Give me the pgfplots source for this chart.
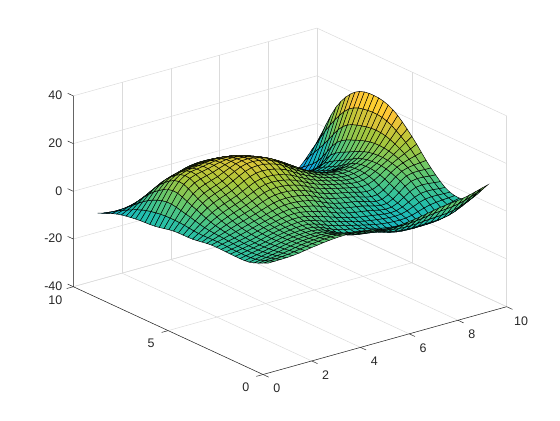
\documentclass[border=0pt]{standalone}
\usepackage{pgfplots}
\usepackage{fontspec}
\setmainfont{Liberation Sans}
\pgfplotsset{compat=1.18}
\begin{document}
\begin{tikzpicture}[x=1bp,y=1bp]
\path[use as bounding box] (0,0) rectangle (560,420);
\begin{axis}[
 at={(263bp,140.9bp)},anchor=origin,
 x={(24.37bp,6.78bp)},y={(-18.97bp,8.78bp)},z={(0bp,2.385bp)},
 xmin=0,xmax=10,ymin=0,ymax=10,zmin=-40,zmax=40,
 xtick={0,2,4,6,8,10},ytick={0,5,10},ztick={-40,-20,0,20,40},
 grid=major,grid style={color=black!14,line width=0.5bp},
 axis line style={draw=none},tickpos=left,
 tick align=outside,major tick length=6bp,tick style={draw=none},
 ticklabel style={font=\fontsize{12.5}{14}\selectfont,color=black!85},
 xticklabel style={xshift=3bp,yshift=-3bp},
 yticklabel style={xshift=-5bp,yshift=-2.5bp},
 zticklabel style={xshift=-2bp,yshift=-3bp},
 /pgf/number format/assume math mode=true,
 clip=false,
 colormap={parula}{rgb255=(62,38,168) rgb255=(71,82,244) rgb255=(46,135,247) rgb255=(17,177,214) rgb255=(36,191,170) rgb255=(100,200,110) rgb255=(172,199,57) rgb255=(254,195,56) rgb255=(249,251,21)},
 point meta min=-35,point meta max=26,
]
\addplot3[surf,shader=faceted,faceted color=black,line width=0.45bp,z buffer=sort,mesh/rows=37,mesh/cols=37] table[x=x,y=y,z=z,row sep=\\] {
x y z\\
1 1 .2\\ 1.25 1 .25\\ 1.5 1 .28\\ 1.75 1 .34\\ 2 1 .5\\ 2.25 1 .8\\ 2.5 1 1.21\\ 2.75 1 1.63\\ 3 1 2\\ 3.25 1 2.32\\ 3.5 1 2.63\\ 3.75 1 2.87\\ 4 1 3\\ 4.25 1 3.01\\ 4.5 1 2.93\\ 4.75 1 2.75\\ 5 1 2.5\\ 5.25 1 2.08\\ 5.5 1 1.52\\ 5.75 1 1\\ 6 1 .7\\ 6.25 1 .69\\ 6.5 1 .87\\ 6.75 1 1.16\\ 7 1 1.5\\ 7.25 1 1.92\\ 7.5 1 2.42\\ 7.75 1 2.94\\ 8 1 3.4\\ 8.25 1 3.74\\ 8.5 1 4\\ 8.75 1 4.29\\ 9 1 4.7\\ 9.25 1 5.28\\ 9.5 1 5.96\\ 9.75 1 6.7\\ 10 1 7.4\\
1 1.25 -.7\\ 1.25 1.25 -.51\\ 1.5 1.25 -.35\\ 1.75 1.25 -.16\\ 2 1.25 .1\\ 2.25 1.25 .47\\ 2.5 1.25 .92\\ 2.75 1.25 1.36\\ 3 1.25 1.73\\ 3.25 1.25 2.02\\ 3.5 1.25 2.28\\ 3.75 1.25 2.43\\ 4 1.25 2.43\\ 4.25 1.25 2.22\\ 4.5 1.25 1.85\\ 4.75 1.25 1.39\\ 5 1.25 .95\\ 5.25 1.25 .5\\ 5.5 1.25 0\\ 5.75 1.25 -.46\\ 6 1.25 -.8\\ 6.25 1.25 -.99\\ 6.5 1.25 -1.08\\ 6.75 1.25 -1.09\\ 7 1.25 -1\\ 7.25 1.25 -.78\\ 7.5 1.25 -.46\\ 7.75 1.25 -.1\\ 8 1.25 .25\\ 8.25 1.25 .49\\ 8.5 1.25 .69\\ 8.75 1.25 .96\\ 9 1.25 1.41\\ 9.25 1.25 2.09\\ 9.5 1.25 2.95\\ 9.75 1.25 3.88\\ 10 1.25 4.77\\
1 1.5 -1.64\\ 1.25 1.5 -1.31\\ 1.5 1.5 -1\\ 1.75 1.5 -.68\\ 2 1.5 -.31\\ 2.25 1.5 .12\\ 2.5 1.5 .62\\ 2.75 1.5 1.08\\ 3 1.5 1.44\\ 3.25 1.5 1.69\\ 3.5 1.5 1.9\\ 3.75 1.5 1.96\\ 4 1.5 1.81\\ 4.25 1.5 1.36\\ 4.5 1.5 .68\\ 4.75 1.5 -.08\\ 5 1.5 -.72\\ 5.25 1.5 -1.2\\ 5.5 1.5 -1.63\\ 5.75 1.5 -2.01\\ 6 1.5 -2.38\\ 6.25 1.5 -2.77\\ 6.5 1.5 -3.15\\ 6.75 1.5 -3.48\\ 7 1.5 -3.66\\ 7.25 1.5 -3.66\\ 7.5 1.5 -3.52\\ 7.75 1.5 -3.32\\ 8 1.5 -3.11\\ 8.25 1.5 -2.97\\ 8.5 1.5 -2.85\\ 8.75 1.5 -2.61\\ 9 1.5 -2.13\\ 9.25 1.5 -1.32\\ 9.5 1.5 -.27\\ 9.75 1.5 .88\\ 10 1.5 1.99\\
1 1.75 -2.49\\ 1.25 1.75 -2.04\\ 1.5 1.75 -1.59\\ 1.75 1.75 -1.15\\ 2 1.75 -.7\\ 2.25 1.75 -.19\\ 2.5 1.75 .35\\ 2.75 1.75 .83\\ 3 1.75 1.18\\ 3.25 1.75 1.41\\ 3.5 1.75 1.58\\ 3.75 1.75 1.56\\ 4 1.75 1.29\\ 4.25 1.75 .63\\ 4.5 1.75 -.31\\ 4.75 1.75 -1.33\\ 5 1.75 -2.15\\ 5.25 1.75 -2.67\\ 5.5 1.75 -3.04\\ 5.75 1.75 -3.37\\ 6 1.75 -3.78\\ 6.25 1.75 -4.34\\ 6.5 1.75 -4.97\\ 6.75 1.75 -5.57\\ 7 1.75 -5.98\\ 7.25 1.75 -6.18\\ 7.5 1.75 -6.21\\ 7.75 1.75 -6.15\\ 8 1.75 -6.05\\ 8.25 1.75 -5.99\\ 8.5 1.75 -5.91\\ 8.75 1.75 -5.68\\ 9 1.75 -5.17\\ 9.25 1.75 -4.27\\ 9.5 1.75 -3.07\\ 9.75 1.75 -1.76\\ 10 1.75 -.5\\
1 2 -3.1\\ 1.25 2 -2.57\\ 1.5 2 -2.04\\ 1.75 2 -1.52\\ 2 2 -1\\ 2.25 2 -.45\\ 2.5 2 .13\\ 2.75 2 .64\\ 3 2 1\\ 3.25 2 1.23\\ 3.5 2 1.38\\ 3.75 2 1.33\\ 4 2 1\\ 4.25 2 .22\\ 4.5 2 -.89\\ 4.75 2 -2.07\\ 5 2 -3\\ 5.25 2 -3.56\\ 5.5 2 -3.93\\ 5.75 2 -4.25\\ 6 2 -4.7\\ 6.25 2 -5.38\\ 6.5 2 -6.17\\ 6.75 2 -6.94\\ 7 2 -7.5\\ 7.25 2 -7.83\\ 7.5 2 -7.99\\ 7.75 2 -8.04\\ 8 2 -8\\ 8.25 2 -7.95\\ 8.5 2 -7.83\\ 8.75 2 -7.55\\ 9 2 -7\\ 9.25 2 -6.09\\ 9.5 2 -4.88\\ 9.75 2 -3.57\\ 10 2 -2.3\\
1 2.25 -3.4\\ 1.25 2.25 -2.85\\ 1.5 2.25 -2.31\\ 1.75 2.25 -1.77\\ 2 2.25 -1.23\\ 2.25 2.25 -.65\\ 2.5 2.25 -.04\\ 2.75 2.25 .5\\ 3 2.25 .9\\ 3.25 2.25 1.16\\ 3.5 2.25 1.34\\ 3.75 2.25 1.32\\ 4 2.25 1\\ 4.25 2.25 .21\\ 4.5 2.25 -.92\\ 4.75 2.25 -2.13\\ 5 2.25 -3.1\\ 5.25 2.25 -3.71\\ 5.5 2.25 -4.14\\ 5.75 2.25 -4.53\\ 6 2.25 -5.03\\ 6.25 2.25 -5.74\\ 6.5 2.25 -6.56\\ 6.75 2.25 -7.34\\ 7 2.25 -7.92\\ 7.25 2.25 -8.3\\ 7.5 2.25 -8.51\\ 7.75 2.25 -8.6\\ 8 2.25 -8.56\\ 8.25 2.25 -8.42\\ 8.5 2.25 -8.14\\ 8.75 2.25 -7.73\\ 9 2.25 -7.15\\ 9.25 2.25 -6.36\\ 9.5 2.25 -5.36\\ 9.75 2.25 -4.31\\ 10 2.25 -3.27\\
1 2.5 -3.46\\ 1.25 2.5 -2.95\\ 1.5 2.5 -2.45\\ 1.75 2.5 -1.94\\ 2 2.5 -1.41\\ 2.25 2.5 -.81\\ 2.5 2.5 -.17\\ 2.75 2.5 .41\\ 3 2.5 .84\\ 3.25 2.5 1.16\\ 3.5 2.5 1.4\\ 3.75 2.5 1.44\\ 4 2.5 1.19\\ 4.25 2.5 .48\\ 4.5 2.5 -.57\\ 4.75 2.5 -1.71\\ 5 2.5 -2.66\\ 5.25 2.5 -3.33\\ 5.5 2.5 -3.87\\ 5.75 2.5 -4.38\\ 6 2.5 -4.94\\ 6.25 2.5 -5.62\\ 6.5 2.5 -6.36\\ 6.75 2.5 -7.05\\ 7 2.5 -7.56\\ 7.25 2.5 -7.92\\ 7.5 2.5 -8.13\\ 7.75 2.5 -8.22\\ 8 2.5 -8.12\\ 8.25 2.5 -7.81\\ 8.5 2.5 -7.3\\ 8.75 2.5 -6.71\\ 9 2.5 -6.11\\ 9.25 2.5 -5.53\\ 9.5 2.5 -4.91\\ 9.75 2.5 -4.29\\ 10 2.5 -3.66\\
1 2.75 -3.43\\ 1.25 2.75 -2.96\\ 1.5 2.75 -2.49\\ 1.75 2.75 -2.02\\ 2 2.75 -1.5\\ 2.25 2.75 -.9\\ 2.5 2.75 -.23\\ 2.75 2.75 .38\\ 3 2.75 .87\\ 3.25 2.75 1.26\\ 3.5 2.75 1.57\\ 3.75 2.75 1.71\\ 4 2.75 1.54\\ 4.25 2.75 .95\\ 4.5 2.75 .04\\ 4.75 2.75 -.99\\ 5 2.75 -1.89\\ 5.25 2.75 -2.62\\ 5.5 2.75 -3.29\\ 5.75 2.75 -3.93\\ 6 2.75 -4.55\\ 6.25 2.75 -5.19\\ 6.5 2.75 -5.82\\ 6.75 2.75 -6.37\\ 7 2.75 -6.8\\ 7.25 2.75 -7.12\\ 7.5 2.75 -7.33\\ 7.75 2.75 -7.41\\ 8 2.75 -7.25\\ 8.25 2.75 -6.76\\ 8.5 2.75 -5.97\\ 8.75 2.75 -5.15\\ 9 2.75 -4.51\\ 9.25 2.75 -4.15\\ 9.5 2.75 -3.91\\ 9.75 2.75 -3.74\\ 10 2.75 -3.54\\
1 3 -3.4\\ 1.25 3 -2.94\\ 1.5 3 -2.49\\ 1.75 3 -2.02\\ 2 3 -1.5\\ 2.25 3 -.88\\ 2.5 3 -.19\\ 2.75 3 .46\\ 3 3 1\\ 3.25 3 1.45\\ 3.5 3 1.84\\ 3.75 3 2.07\\ 4 3 2\\ 4.25 3 1.53\\ 4.5 3 .75\\ 4.75 3 -.16\\ 5 3 -1\\ 5.25 3 -1.78\\ 5.5 3 -2.56\\ 5.75 3 -3.32\\ 6 3 -4\\ 6.25 3 -4.61\\ 6.5 3 -5.16\\ 6.75 3 -5.63\\ 7 3 -6\\ 7.25 3 -6.33\\ 7.5 3 -6.59\\ 7.75 3 -6.7\\ 8 3 -6.5\\ 8.25 3 -5.83\\ 8.5 3 -4.78\\ 8.75 3 -3.73\\ 9 3 -3\\ 9.25 3 -2.76\\ 9.5 3 -2.78\\ 9.75 3 -2.92\\ 10 3 -3\\
1 3.25 -3.38\\ 1.25 3.25 -2.9\\ 1.5 3.25 -2.43\\ 1.75 3.25 -1.94\\ 2 3.25 -1.39\\ 2.25 3.25 -.75\\ 2.5 3.25 -.04\\ 2.75 3.25 .64\\ 3 3.25 1.23\\ 3.25 3.25 1.75\\ 3.5 3.25 2.22\\ 3.75 3.25 2.54\\ 4 3.25 2.57\\ 4.25 3.25 2.23\\ 4.5 3.25 1.6\\ 4.75 3.25 .82\\ 5 3.25 .04\\ 5.25 3.25 -.76\\ 5.5 3.25 -1.64\\ 5.75 3.25 -2.5\\ 6 3.25 -3.24\\ 6.25 3.25 -3.85\\ 6.5 3.25 -4.36\\ 6.75 3.25 -4.8\\ 7 3.25 -5.17\\ 7.25 3.25 -5.58\\ 7.5 3.25 -5.97\\ 7.75 3.25 -6.19\\ 8 3.25 -5.99\\ 8.25 3.25 -5.15\\ 8.5 3.25 -3.81\\ 8.75 3.25 -2.47\\ 9 3.25 -1.57\\ 9.25 3.25 -1.33\\ 9.5 3.25 -1.45\\ 9.75 3.25 -1.74\\ 10 3.25 -1.94\\
1 3.5 -3.29\\ 1.25 3.5 -2.79\\ 1.5 3.5 -2.28\\ 1.75 3.5 -1.76\\ 2 3.5 -1.19\\ 2.25 3.5 -.52\\ 2.5 3.5 .2\\ 2.75 3.5 .9\\ 3 3.5 1.53\\ 3.25 3.5 2.12\\ 3.5 3.5 2.68\\ 3.75 3.5 3.1\\ 4 3.5 3.25\\ 4.25 3.5 3.06\\ 4.5 3.5 2.61\\ 4.75 3.5 2\\ 5 3.5 1.31\\ 5.25 3.5 .49\\ 5.5 3.5 -.47\\ 5.75 3.5 -1.43\\ 6 3.5 -2.24\\ 6.25 3.5 -2.84\\ 6.5 3.5 -3.33\\ 6.75 3.5 -3.74\\ 7 3.5 -4.13\\ 7.25 3.5 -4.65\\ 7.5 3.5 -5.24\\ 7.75 3.5 -5.6\\ 8 3.5 -5.43\\ 8.25 3.5 -4.4\\ 8.5 3.5 -2.74\\ 8.75 3.5 -1.05\\ 9 3.5 .07\\ 9.25 3.5 .37\\ 9.5 3.5 .22\\ 9.75 3.5 -.13\\ 10 3.5 -.39\\
1 3.75 -3.25\\ 1.25 3.75 -2.67\\ 1.5 3.75 -2.1\\ 1.75 3.75 -1.52\\ 2 3.75 -.89\\ 2.25 3.75 -.2\\ 2.5 3.75 .55\\ 2.75 3.75 1.28\\ 3 3.75 1.95\\ 3.25 3.75 2.62\\ 3.5 3.75 3.27\\ 3.75 3.75 3.8\\ 4 3.75 4.07\\ 4.25 3.75 4.03\\ 4.5 3.75 3.75\\ 4.75 3.75 3.28\\ 5 3.75 2.68\\ 5.25 3.75 1.85\\ 5.5 3.75 .81\\ 5.75 3.75 -.24\\ 6 3.75 -1.12\\ 6.25 3.75 -1.73\\ 6.5 3.75 -2.2\\ 6.75 3.75 -2.61\\ 7 3.75 -3.03\\ 7.25 3.75 -3.67\\ 7.5 3.75 -4.43\\ 7.75 3.75 -4.93\\ 8 3.75 -4.79\\ 8.25 3.75 -3.6\\ 8.5 3.75 -1.66\\ 8.75 3.75 .32\\ 9 3.75 1.67\\ 9.25 3.75 2.09\\ 9.5 3.75 2\\ 9.75 3.75 1.7\\ 10 3.75 1.5\\
1 4 -3.3\\ 1.25 4 -2.61\\ 1.5 4 -1.91\\ 1.75 4 -1.22\\ 2 4 -.5\\ 2.25 4 .25\\ 2.5 4 1.02\\ 2.75 4 1.78\\ 3 4 2.5\\ 3.25 4 3.25\\ 3.5 4 4\\ 3.75 4 4.63\\ 4 4 5\\ 4.25 4 5.07\\ 4.5 4 4.91\\ 4.75 4 4.55\\ 5 4 4\\ 5.25 4 3.16\\ 5.5 4 2.06\\ 5.75 4 .93\\ 6 4 0\\ 6.25 4 -.64\\ 6.5 4 -1.13\\ 6.75 4 -1.55\\ 7 4 -2\\ 7.25 4 -2.71\\ 7.5 4 -3.56\\ 7.75 4 -4.13\\ 8 4 -4\\ 8.25 4 -2.73\\ 8.5 4 -.66\\ 8.75 4 1.49\\ 9 4 3\\ 9.25 4 3.58\\ 9.5 4 3.66\\ 9.75 4 3.53\\ 10 4 3.5\\
1 4.25 -3.53\\ 1.25 4.25 -2.65\\ 1.5 4.25 -1.75\\ 1.75 4.25 -.88\\ 2 4.25 -.01\\ 2.25 4.25 .83\\ 2.5 4.25 1.64\\ 2.75 4.25 2.44\\ 3 4.25 3.22\\ 3.25 4.25 4.06\\ 3.5 4.25 4.92\\ 3.75 4.25 5.67\\ 4 4.25 6.12\\ 4.25 4.25 6.25\\ 4.5 4.25 6.14\\ 4.75 4.25 5.81\\ 5 4.25 5.27\\ 5.25 4.25 4.42\\ 5.5 4.25 3.28\\ 5.75 4.25 2.1\\ 6 4.25 1.13\\ 6.25 4.25 .45\\ 6.5 4.25 -.09\\ 6.75 4.25 -.56\\ 7 4.25 -1.03\\ 7.25 4.25 -1.73\\ 7.5 4.25 -2.56\\ 7.75 4.25 -3.09\\ 8 4.25 -2.95\\ 8.25 4.25 -1.7\\ 8.5 4.25 .31\\ 8.75 4.25 2.44\\ 9 4.25 4.02\\ 9.25 4.25 4.82\\ 9.5 4.25 5.21\\ 9.75 4.25 5.43\\ 10 4.25 5.72\\
1 4.5 -3.88\\ 1.25 4.5 -2.75\\ 1.5 4.5 -1.59\\ 1.75 4.5 -.48\\ 2 4.5 .56\\ 2.25 4.5 1.51\\ 2.5 4.5 2.39\\ 2.75 4.5 3.22\\ 3 4.5 4.06\\ 3.25 4.5 5.01\\ 3.5 4.5 5.99\\ 3.75 4.5 6.85\\ 4 4.5 7.38\\ 4.25 4.5 7.54\\ 4.5 4.5 7.43\\ 4.75 4.5 7.08\\ 5 4.5 6.53\\ 5.25 4.5 5.67\\ 5.5 4.5 4.52\\ 5.75 4.5 3.32\\ 6 4.5 2.31\\ 6.25 4.5 1.57\\ 6.5 4.5 .96\\ 6.75 4.5 .44\\ 7 4.5 -.06\\ 7.25 4.5 -.71\\ 7.5 4.5 -1.43\\ 7.75 4.5 -1.86\\ 8 4.5 -1.68\\ 8.25 4.5 -.54\\ 8.5 4.5 1.27\\ 8.75 4.5 3.25\\ 9 4.5 4.85\\ 9.25 4.5 5.92\\ 9.5 4.5 6.72\\ 9.75 4.5 7.43\\ 10 4.5 8.19\\
1 4.75 -4.24\\ 1.25 4.75 -2.83\\ 1.5 4.75 -1.39\\ 1.75 4.75 -.02\\ 2 4.75 1.24\\ 2.25 4.75 2.3\\ 2.5 4.75 3.24\\ 2.75 4.75 4.11\\ 3 4.75 5.01\\ 3.25 4.75 6.05\\ 3.5 4.75 7.15\\ 3.75 4.75 8.12\\ 4 4.75 8.71\\ 4.25 4.75 8.89\\ 4.5 4.75 8.75\\ 4.75 4.75 8.37\\ 5 4.75 7.79\\ 5.25 4.75 6.91\\ 5.5 4.75 5.74\\ 5.75 4.75 4.52\\ 6 4.75 3.47\\ 6.25 4.75 2.66\\ 6.5 4.75 1.95\\ 6.75 4.75 1.35\\ 7 4.75 .81\\ 7.25 4.75 .22\\ 7.5 4.75 -.37\\ 7.75 4.75 -.7\\ 8 4.75 -.48\\ 8.25 4.75 .52\\ 8.5 4.75 2.09\\ 8.75 4.75 3.87\\ 9 4.75 5.48\\ 9.25 4.75 6.85\\ 9.5 4.75 8.14\\ 9.75 4.75 9.41\\ 10 4.75 10.7\\
1 5 -4.5\\ 1.25 5 -2.82\\ 1.5 5 -1.09\\ 1.75 5 .55\\ 2 5 2\\ 2.25 5 3.18\\ 2.5 5 4.16\\ 2.75 5 5.06\\ 3 5 6\\ 3.25 5 7.12\\ 3.5 5 8.31\\ 3.75 5 9.36\\ 4 5 10\\ 4.25 5 10.19\\ 4.5 5 10.03\\ 4.75 5 9.62\\ 5 5 9\\ 5.25 5 8.09\\ 5.5 5 6.88\\ 5.75 5 5.61\\ 6 5 4.5\\ 6.25 5 3.6\\ 6.5 5 2.79\\ 6.75 5 2.09\\ 7 5 1.5\\ 7.25 5 .94\\ 7.5 5 .42\\ 7.75 5 .17\\ 8 5 .4\\ 8.25 5 1.28\\ 8.5 5 2.64\\ 8.75 5 4.26\\ 9 5 5.9\\ 9.25 5 7.58\\ 9.5 5 9.35\\ 9.75 5 11.19\\ 10 5 13\\
1 5.25 -4.61\\ 1.25 5.25 -2.66\\ 1.5 5.25 -.64\\ 1.75 5.25 1.26\\ 2 5.25 2.91\\ 2.25 5.25 4.2\\ 2.5 5.25 5.22\\ 2.75 5.25 6.14\\ 3 5.25 7.11\\ 3.25 5.25 8.31\\ 3.5 5.25 9.59\\ 3.75 5.25 10.71\\ 4 5.25 11.4\\ 4.25 5.25 11.61\\ 4.5 5.25 11.44\\ 4.75 5.25 10.99\\ 5 5.25 10.32\\ 5.25 5.25 9.34\\ 5.5 5.25 8.03\\ 5.75 5.25 6.66\\ 6 5.25 5.44\\ 6.25 5.25 4.43\\ 6.5 5.25 3.5\\ 6.75 5.25 2.69\\ 7 5.25 2.02\\ 7.25 5.25 1.44\\ 7.5 5.25 .95\\ 7.75 5.25 .73\\ 8 5.25 .95\\ 8.25 5.25 1.72\\ 8.5 5.25 2.9\\ 8.75 5.25 4.4\\ 9 5.25 6.11\\ 9.25 5.25 8.12\\ 9.5 5.25 10.39\\ 9.75 5.25 12.81\\ 10 5.25 15.16\\
1 5.5 -4.63\\ 1.25 5.5 -2.39\\ 1.5 5.5 -.08\\ 1.75 5.5 2.09\\ 2 5.5 3.94\\ 2.25 5.5 5.33\\ 2.5 5.5 6.38\\ 2.75 5.5 7.31\\ 3 5.5 8.31\\ 3.25 5.5 9.58\\ 3.5 5.5 10.94\\ 3.75 5.5 12.14\\ 4 5.5 12.88\\ 4.25 5.5 13.09\\ 4.5 5.5 12.9\\ 4.75 5.5 12.42\\ 5 5.5 11.69\\ 5.25 5.5 10.61\\ 5.5 5.5 9.17\\ 5.75 5.5 7.66\\ 6 5.5 6.31\\ 6.25 5.5 5.17\\ 6.5 5.5 4.1\\ 6.75 5.5 3.16\\ 7 5.5 2.41\\ 7.25 5.5 1.79\\ 7.5 5.5 1.3\\ 7.75 5.5 1.09\\ 8 5.5 1.29\\ 8.25 5.5 1.94\\ 8.5 5.5 2.93\\ 8.75 5.5 4.32\\ 9 5.5 6.1\\ 9.25 5.5 8.46\\ 9.5 5.5 11.26\\ 9.75 5.5 14.28\\ 10 5.5 17.2\\
1 5.75 -4.66\\ 1.25 5.75 -2.12\\ 1.5 5.75 .49\\ 1.75 5.75 2.95\\ 2 5.75 5\\ 2.25 5.75 6.5\\ 2.5 5.75 7.56\\ 2.75 5.75 8.49\\ 3 5.75 9.5\\ 3.25 5.75 10.81\\ 3.5 5.75 12.21\\ 3.75 5.75 13.43\\ 4 5.75 14.18\\ 4.25 5.75 14.38\\ 4.5 5.75 14.18\\ 4.75 5.75 13.65\\ 5 5.75 12.85\\ 5.25 5.75 11.69\\ 5.5 5.75 10.14\\ 5.75 5.75 8.51\\ 6 5.75 7.03\\ 6.25 5.75 5.75\\ 6.5 5.75 4.53\\ 6.75 5.75 3.45\\ 7 5.75 2.59\\ 7.25 5.75 1.92\\ 7.5 5.75 1.4\\ 7.75 5.75 1.17\\ 8 5.75 1.33\\ 8.25 5.75 1.87\\ 8.5 5.75 2.72\\ 8.75 5.75 4.02\\ 9 5.75 5.9\\ 9.25 5.75 8.61\\ 9.5 5.75 11.93\\ 9.75 5.75 15.57\\ 10 5.75 19.05\\
1 6 -4.8\\ 1.25 6 -1.95\\ 1.5 6 .99\\ 1.75 6 3.74\\ 2 6 6\\ 2.25 6 7.58\\ 2.5 6 8.64\\ 2.75 6 9.53\\ 3 6 10.5\\ 3.25 6 11.78\\ 3.5 6 13.13\\ 3.75 6 14.3\\ 4 6 15\\ 4.25 6 15.16\\ 4.5 6 14.91\\ 4.75 6 14.34\\ 5 6 13.5\\ 5.25 6 12.3\\ 5.5 6 10.72\\ 5.75 6 9.05\\ 6 6 7.5\\ 6.25 6 6.1\\ 6.5 6 4.72\\ 6.75 6 3.49\\ 7 6 2.5\\ 7.25 6 1.74\\ 7.5 6 1.16\\ 7.75 6 .88\\ 8 6 1\\ 8.25 6 1.47\\ 8.5 6 2.22\\ 8.75 6 3.5\\ 9 6 5.5\\ 9.25 6 8.54\\ 9.5 6 12.34\\ 9.75 6 16.51\\ 10 6 20.5\\
1 6.25 -5.14\\ 1.25 6.25 -1.89\\ 1.5 6.25 1.48\\ 1.75 6.25 4.61\\ 2 6.25 7.12\\ 2.25 6.25 8.78\\ 2.5 6.25 9.81\\ 2.75 6.25 10.6\\ 3 6.25 11.45\\ 3.25 6.25 12.59\\ 3.5 6.25 13.75\\ 3.75 6.25 14.73\\ 4 6.25 15.28\\ 4.25 6.25 15.33\\ 4.5 6.25 14.99\\ 4.75 6.25 14.37\\ 5 6.25 13.5\\ 5.25 6.25 12.33\\ 5.5 6.25 10.83\\ 5.75 6.25 9.23\\ 6 6.25 7.67\\ 6.25 6.25 6.16\\ 6.5 6.25 4.59\\ 6.75 6.25 3.16\\ 7 6.25 2\\ 7.25 6.25 1.1\\ 7.5 6.25 .4\\ 7.75 6.25 .03\\ 8 6.25 .1\\ 8.25 6.25 .56\\ 8.5 6.25 1.33\\ 8.75 6.25 2.7\\ 9 6.25 4.88\\ 9.25 6.25 8.24\\ 9.5 6.25 12.48\\ 9.75 6.25 17.12\\ 10 6.25 21.57\\
1 6.5 -5.58\\ 1.25 6.5 -1.87\\ 1.5 6.5 1.99\\ 1.75 6.5 5.53\\ 2 6.5 8.31\\ 2.25 6.5 10.05\\ 2.5 6.5 11.02\\ 2.75 6.5 11.66\\ 3 6.5 12.34\\ 3.25 6.5 13.26\\ 3.5 6.5 14.13\\ 3.75 6.5 14.81\\ 4 6.5 15.13\\ 4.25 6.5 15.03\\ 4.5 6.5 14.57\\ 4.75 6.5 13.89\\ 5 6.5 13\\ 5.25 6.5 11.91\\ 5.5 6.5 10.57\\ 5.75 6.5 9.11\\ 6 6.5 7.59\\ 6.25 6.5 5.96\\ 6.5 6.5 4.19\\ 6.75 6.5 2.51\\ 7 6.5 1.16\\ 7.25 6.5 .09\\ 7.5 6.5 -.77\\ 7.75 6.5 -1.27\\ 8 6.5 -1.24\\ 8.25 6.5 -.75\\ 8.5 6.5 .11\\ 8.75 6.5 1.63\\ 9 6.5 4.04\\ 9.25 6.5 7.71\\ 9.5 6.5 12.34\\ 9.75 6.5 17.41\\ 10 6.5 22.26\\
1 6.75 -6.04\\ 1.25 6.75 -1.94\\ 1.5 6.75 2.33\\ 1.75 6.75 6.23\\ 2 6.75 9.24\\ 2.25 6.75 11.03\\ 2.5 6.75 11.94\\ 2.75 6.75 12.44\\ 3 6.75 12.96\\ 3.25 6.75 13.64\\ 3.5 6.75 14.21\\ 3.75 6.75 14.6\\ 4 6.75 14.68\\ 4.25 6.75 14.44\\ 4.5 6.75 13.89\\ 4.75 6.75 13.16\\ 5 6.75 12.27\\ 5.25 6.75 11.27\\ 5.5 6.75 10.1\\ 5.75 6.75 8.8\\ 6 6.75 7.35\\ 6.25 6.75 5.63\\ 6.5 6.75 3.68\\ 6.75 6.75 1.78\\ 7 6.75 .24\\ 7.25 6.75 -1\\ 7.5 6.75 -2.05\\ 7.75 6.75 -2.69\\ 8 6.75 -2.73\\ 8.25 6.75 -2.2\\ 8.5 6.75 -1.25\\ 8.75 6.75 .44\\ 9 6.75 3.06\\ 9.25 6.75 7.02\\ 9.5 6.75 12.01\\ 9.75 6.75 17.46\\ 10 6.75 22.69\\
1 7 -6.4\\ 1.25 7 -2.13\\ 1.5 7 2.33\\ 1.75 7 6.39\\ 2 7 9.5\\ 2.25 7 11.31\\ 2.5 7 12.18\\ 2.75 7 12.59\\ 3 7 13\\ 3.25 7 13.52\\ 3.5 7 13.88\\ 3.75 7 14.07\\ 4 7 14\\ 4.25 7 13.68\\ 4.5 7 13.09\\ 4.75 7 12.36\\ 5 7 11.5\\ 5.25 7 10.59\\ 5.5 7 9.56\\ 5.75 7 8.39\\ 6 7 7\\ 6.25 7 5.24\\ 6.5 7 3.19\\ 6.75 7 1.17\\ 7 7 -.5\\ 7.25 7 -1.88\\ 7.5 7 -3.09\\ 7.75 7 -3.88\\ 8 7 -4\\ 8.25 7 -3.5\\ 8.5 7 -2.52\\ 8.75 7 -.76\\ 9 7 2\\ 9.25 7 6.19\\ 9.5 7 11.48\\ 9.75 7 17.26\\ 10 7 22.8\\
1 7.25 -6.63\\ 1.25 7.25 -2.44\\ 1.5 7.25 1.93\\ 1.75 7.25 5.91\\ 2 7.25 8.96\\ 2.25 7.25 10.74\\ 2.5 7.25 11.6\\ 2.75 7.25 12\\ 3 7.25 12.38\\ 3.25 7.25 12.82\\ 3.5 7.25 13.08\\ 3.75 7.25 13.18\\ 4 7.25 13.06\\ 4.25 7.25 12.76\\ 4.5 7.25 12.22\\ 4.75 7.25 11.56\\ 5 7.25 10.77\\ 5.25 7.25 9.93\\ 5.5 7.25 8.98\\ 5.75 7.25 7.87\\ 6 7.25 6.53\\ 6.25 7.25 4.8\\ 6.5 7.25 2.77\\ 6.75 7.25 .75\\ 7 7.25 -.97\\ 7.25 7.25 -2.47\\ 7.5 7.25 -3.85\\ 7.75 7.25 -4.8\\ 8 7.25 -5.03\\ 8.25 7.25 -4.59\\ 8.5 7.25 -3.64\\ 8.75 7.25 -1.86\\ 9 7.25 .99\\ 9.25 7.25 5.35\\ 9.5 7.25 10.89\\ 9.75 7.25 16.94\\ 10 7.25 22.75\\
1 7.5 -6.75\\ 1.25 7.5 -2.84\\ 1.5 7.5 1.25\\ 1.75 7.5 4.96\\ 2 7.5 7.83\\ 2.25 7.5 9.54\\ 2.5 7.5 10.4\\ 2.75 7.5 10.83\\ 3 7.5 11.22\\ 3.25 7.5 11.63\\ 3.5 7.5 11.85\\ 3.75 7.5 11.92\\ 4 7.5 11.81\\ 4.25 7.5 11.58\\ 4.5 7.5 11.16\\ 4.75 7.5 10.63\\ 5 7.5 9.94\\ 5.25 7.5 9.16\\ 5.5 7.5 8.25\\ 5.75 7.5 7.2\\ 6 7.5 5.91\\ 6.25 7.5 4.26\\ 6.5 7.5 2.34\\ 6.75 7.5 .39\\ 7 7.5 -1.31\\ 7.25 7.5 -2.91\\ 7.5 7.5 -4.46\\ 7.75 7.5 -5.61\\ 8 7.5 -5.97\\ 8.25 7.5 -5.61\\ 8.5 7.5 -4.69\\ 8.75 7.5 -2.92\\ 9 7.5 -.03\\ 9.25 7.5 4.45\\ 9.5 7.5 10.16\\ 9.75 7.5 16.42\\ 10 7.5 22.42\\
1 7.75 -6.89\\ 1.25 7.75 -3.36\\ 1.5 7.75 .32\\ 1.75 7.75 3.67\\ 2 7.75 6.29\\ 2.25 7.75 7.9\\ 2.5 7.75 8.78\\ 2.75 7.75 9.28\\ 3 7.75 9.72\\ 3.25 7.75 10.14\\ 3.5 7.75 10.37\\ 3.75 7.75 10.47\\ 4 7.75 10.43\\ 4.25 7.75 10.29\\ 4.5 7.75 10.01\\ 4.75 7.75 9.6\\ 5 7.75 9.03\\ 5.25 7.75 8.31\\ 5.5 7.75 7.46\\ 5.75 7.75 6.44\\ 6 7.75 5.21\\ 6.25 7.75 3.68\\ 6.5 7.75 1.88\\ 6.75 7.75 .05\\ 7 7.75 -1.63\\ 7.25 7.75 -3.29\\ 7.5 7.75 -4.99\\ 7.75 7.75 -6.3\\ 8 7.75 -6.8\\ 8.25 7.75 -6.58\\ 8.5 7.75 -5.81\\ 8.75 7.75 -4.15\\ 9 7.75 -1.29\\ 9.25 7.75 3.27\\ 9.5 7.75 9.13\\ 9.75 7.75 15.57\\ 10 7.75 21.74\\
1 8 -7.1\\ 1.25 8 -4.01\\ 1.5 8 -.79\\ 1.75 8 2.16\\ 2 8 4.5\\ 2.25 8 6.01\\ 2.5 8 6.91\\ 2.75 8 7.49\\ 3 8 8\\ 3.25 8 8.48\\ 3.5 8 8.78\\ 3.75 8 8.96\\ 4 8 9\\ 4.25 8 8.96\\ 4.5 8 8.78\\ 4.75 8 8.48\\ 5 8 8\\ 5.25 8 7.37\\ 5.5 8 6.59\\ 5.75 8 5.65\\ 6 8 4.5\\ 6.25 8 3.06\\ 6.5 8 1.38\\ 6.75 8 -.37\\ 7 8 -2\\ 7.25 8 -3.68\\ 7.5 8 -5.44\\ 7.75 8 -6.85\\ 8 8 -7.5\\ 8.25 8 -7.52\\ 8.5 8 -7.06\\ 8.75 8 -5.69\\ 9 8 -3\\ 9.25 8 1.57\\ 9.5 8 7.56\\ 9.75 8 14.18\\ 10 8 20.5\\
1 8.25 -7.41\\ 1.25 8.25 -4.83\\ 1.5 8.25 -2.14\\ 1.75 8.25 .33\\ 2 8.25 2.36\\ 2.25 8.25 3.76\\ 2.5 8.25 4.7\\ 2.75 8.25 5.4\\ 3 8.25 6.03\\ 3.25 8.25 6.64\\ 3.5 8.25 7.1\\ 3.75 8.25 7.45\\ 4 8.25 7.63\\ 4.25 8.25 7.67\\ 4.5 8.25 7.54\\ 4.75 8.25 7.29\\ 5 8.25 6.88\\ 5.25 8.25 6.35\\ 5.5 8.25 5.69\\ 5.75 8.25 4.87\\ 6 8.25 3.82\\ 6.25 8.25 2.46\\ 6.5 8.25 .85\\ 6.75 8.25 -.85\\ 7 8.25 -2.45\\ 7.25 8.25 -4.07\\ 7.5 8.25 -5.77\\ 7.75 8.25 -7.19\\ 8 8.25 -7.99\\ 8.25 8.25 -8.44\\ 8.5 8.25 -8.61\\ 8.75 8.25 -7.84\\ 9 8.25 -5.51\\ 9.25 8.25 -.94\\ 9.5 8.25 5.26\\ 9.75 8.25 12.17\\ 10 8.25 18.75\\
1 8.5 -7.74\\ 1.25 8.5 -5.76\\ 1.5 8.5 -3.72\\ 1.75 8.5 -1.81\\ 2 8.5 -.17\\ 2.25 8.5 1.11\\ 2.5 8.5 2.11\\ 2.75 8.5 2.96\\ 3 8.5 3.75\\ 3.25 8.5 4.55\\ 3.5 8.5 5.26\\ 3.75 8.5 5.85\\ 4 8.5 6.21\\ 4.25 8.5 6.34\\ 4.5 8.5 6.24\\ 4.75 8.5 6.01\\ 5 8.5 5.66\\ 5.25 8.5 5.24\\ 5.5 8.5 4.73\\ 5.75 8.5 4.05\\ 6 8.5 3.13\\ 6.25 8.5 1.85\\ 6.5 8.5 .29\\ 6.75 8.5 -1.36\\ 7 8.5 -2.91\\ 7.25 8.5 -4.42\\ 7.5 8.5 -5.95\\ 7.75 8.5 -7.32\\ 8 8.5 -8.28\\ 8.25 8.5 -9.3\\ 8.5 8.5 -10.32\\ 8.75 8.5 -10.4\\ 9 8.5 -8.56\\ 9.25 8.5 -4.05\\ 9.5 8.5 2.39\\ 9.75 8.5 9.65\\ 10 8.5 16.51\\
1 8.75 -8.17\\ 1.25 8.75 -6.81\\ 1.5 8.75 -5.41\\ 1.75 8.75 -4.08\\ 2 8.75 -2.81\\ 2.25 8.75 -1.67\\ 2.5 8.75 -.61\\ 2.75 8.75 .39\\ 3 8.75 1.35\\ 3.25 8.75 2.34\\ 3.5 8.75 3.31\\ 3.75 8.75 4.14\\ 4 8.75 4.7\\ 4.25 8.75 4.92\\ 4.5 8.75 4.86\\ 4.75 8.75 4.65\\ 5 8.75 4.36\\ 5.25 8.75 4.07\\ 5.5 8.75 3.7\\ 5.75 8.75 3.18\\ 6 8.75 2.37\\ 6.25 8.75 1.17\\ 6.5 8.75 -.33\\ 6.75 8.75 -1.93\\ 7 8.75 -3.42\\ 7.25 8.75 -4.81\\ 7.5 8.75 -6.17\\ 7.75 8.75 -7.46\\ 8 8.75 -8.57\\ 8.25 8.75 -10.14\\ 8.5 8.75 -11.99\\ 8.75 8.75 -12.9\\ 9 8.75 -11.61\\ 9.25 8.75 -7.23\\ 9.5 8.75 -.68\\ 9.75 8.75 6.78\\ 10 8.75 13.79\\
1 9 -8.7\\ 1.25 9 -7.88\\ 1.5 9 -7.05\\ 1.75 9 -6.22\\ 2 9 -5.3\\ 2.25 9 -4.28\\ 2.5 9 -3.19\\ 2.75 9 -2.08\\ 3 9 -1\\ 3.25 9 .12\\ 3.5 9 1.27\\ 3.75 9 2.29\\ 4 9 3\\ 4.25 9 3.32\\ 4.5 9 3.34\\ 4.75 9 3.2\\ 5 9 3\\ 5.25 9 2.82\\ 5.5 9 2.59\\ 5.75 9 2.19\\ 6 9 1.5\\ 6.25 9 .39\\ 6.5 9 -1.03\\ 6.75 9 -2.57\\ 7 9 -4\\ 7.25 9 -5.29\\ 7.5 9 -6.53\\ 7.75 9 -7.77\\ 8 9 -9\\ 8.25 9 -10.94\\ 8.5 9 -13.34\\ 8.75 9 -14.83\\ 9 9 -14\\ 9.25 9 -9.93\\ 9.5 9 -3.59\\ 9.75 9 3.68\\ 10 9 10.5\\
1 9.25 -9.42\\ 1.25 9.25 -9.02\\ 1.5 9.25 -8.64\\ 1.75 9.25 -8.21\\ 2 9.25 -7.57\\ 2.25 9.25 -6.66\\ 2.5 9.25 -5.57\\ 2.75 9.25 -4.4\\ 3 9.25 -3.26\\ 3.25 9.25 -2.09\\ 3.5 9.25 -.86\\ 3.75 9.25 .25\\ 4 9.25 1.06\\ 4.25 9.25 1.5\\ 4.5 9.25 1.65\\ 4.75 9.25 1.64\\ 5 9.25 1.57\\ 5.25 9.25 1.5\\ 5.5 9.25 1.37\\ 5.75 9.25 1.07\\ 6 9.25 .48\\ 6.25 9.25 -.54\\ 6.5 9.25 -1.86\\ 6.75 9.25 -3.32\\ 7 9.25 -4.69\\ 7.25 9.25 -5.93\\ 7.5 9.25 -7.13\\ 7.75 9.25 -8.36\\ 8 9.25 -9.66\\ 8.25 9.25 -11.71\\ 8.5 9.25 -14.26\\ 8.75 9.25 -15.99\\ 9 9.25 -15.51\\ 9.25 9.25 -11.96\\ 9.5 9.25 -6.26\\ 9.75 9.25 .31\\ 10 9.25 6.46\\
1 9.5 -10.24\\ 1.25 9.5 -10.21\\ 1.5 9.5 -10.21\\ 1.75 9.5 -10.12\\ 2 9.5 -9.72\\ 2.25 9.5 -8.94\\ 2.5 9.5 -7.86\\ 2.75 9.5 -6.66\\ 3 9.5 -5.5\\ 3.25 9.5 -4.33\\ 3.5 9.5 -3.08\\ 3.75 9.5 -1.94\\ 4 9.5 -1.05\\ 4.25 9.5 -.49\\ 4.5 9.5 -.17\\ 4.75 9.5 -.01\\ 5 9.5 .06\\ 5.25 9.5 .1\\ 5.5 9.5 .07\\ 5.75 9.5 -.15\\ 6 9.5 -.66\\ 6.25 9.5 -1.57\\ 6.5 9.5 -2.78\\ 6.75 9.5 -4.14\\ 7 9.5 -5.44\\ 7.25 9.5 -6.65\\ 7.5 9.5 -7.85\\ 7.75 9.5 -9.09\\ 8 9.5 -10.41\\ 8.25 9.5 -12.41\\ 8.5 9.5 -14.87\\ 8.75 9.5 -16.61\\ 9 9.5 -16.44\\ 9.25 9.5 -13.58\\ 9.5 9.5 -8.84\\ 9.75 9.5 -3.35\\ 10 9.5 1.78\\
1 9.75 -11.15\\ 1.25 9.75 -11.45\\ 1.5 9.75 -11.8\\ 1.75 9.75 -12.02\\ 2 9.75 -11.86\\ 2.25 9.75 -11.19\\ 2.5 9.75 -10.13\\ 2.75 9.75 -8.93\\ 3 9.75 -7.75\\ 3.25 9.75 -6.59\\ 3.5 9.75 -5.35\\ 3.75 9.75 -4.19\\ 4 9.75 -3.24\\ 4.25 9.75 -2.56\\ 4.5 9.75 -2.05\\ 4.75 9.75 -1.71\\ 5 9.75 -1.47\\ 5.25 9.75 -1.32\\ 5.5 9.75 -1.27\\ 5.75 9.75 -1.42\\ 6 9.75 -1.84\\ 6.25 9.75 -2.64\\ 6.5 9.75 -3.75\\ 6.75 9.75 -5\\ 7 9.75 -6.23\\ 7.25 9.75 -7.43\\ 7.5 9.75 -8.63\\ 7.75 9.75 -9.9\\ 8 9.75 -11.22\\ 8.25 9.75 -13.12\\ 8.5 9.75 -15.39\\ 8.75 9.75 -17.07\\ 9 9.75 -17.18\\ 9.25 9.75 -15.07\\ 9.5 9.75 -11.42\\ 9.75 9.75 -7.15\\ 10 9.75 -3.17\\
1 10 -12\\ 1.25 10 -12.65\\ 1.5 10 -13.38\\ 1.75 10 -13.93\\ 2 10 -14\\ 2.25 10 -13.45\\ 2.5 10 -12.41\\ 2.75 10 -11.19\\ 3 10 -10\\ 3.25 10 -8.85\\ 3.5 10 -7.6\\ 3.75 10 -6.42\\ 4 10 -5.4\\ 4.25 10 -4.59\\ 4.5 10 -3.91\\ 4.75 10 -3.39\\ 5 10 -3\\ 5.25 10 -2.74\\ 5.5 10 -2.6\\ 5.75 10 -2.67\\ 6 10 -3\\ 6.25 10 -3.7\\ 6.5 10 -4.69\\ 6.75 10 -5.84\\ 7 10 -7\\ 7.25 10 -8.17\\ 7.5 10 -9.38\\ 7.75 10 -10.66\\ 8 10 -12\\ 8.25 10 -13.81\\ 8.5 10 -15.94\\ 8.75 10 -17.6\\ 9 10 -18\\ 9.25 10 -16.62\\ 9.5 10 -14\\ 9.75 10 -10.89\\ 10 10 -8\\
};
\draw[black!85,line width=0.5bp] (axis cs:0,0,-40)--(axis cs:10,0,-40);
\draw[black!85,line width=0.5bp] (axis cs:0,0,-40)--(axis cs:0,10,-40)--(axis cs:0,10,40);
\draw[black!85,line width=0.5bp] (axis cs:0,0,-40)--(axis cs:0,-.3,-40) (axis cs:2,0,-40)--(axis cs:2,-.3,-40) (axis cs:4,0,-40)--(axis cs:4,-.3,-40) (axis cs:6,0,-40)--(axis cs:6,-.3,-40) (axis cs:8,0,-40)--(axis cs:8,-.3,-40) (axis cs:10,0,-40)--(axis cs:10,-.3,-40);
\draw[black!85,line width=0.5bp] (axis cs:0,0,-40)--(axis cs:-.27,0,-40) (axis cs:0,5,-40)--(axis cs:-.27,5,-40) (axis cs:0,10,-40)--(axis cs:-.27,10,-40);
\draw[black!85,line width=0.5bp] (axis cs:0,10,-40)--(axis cs:0,10.3,-40) (axis cs:0,10,-20)--(axis cs:0,10.3,-20) (axis cs:0,10,0)--(axis cs:0,10.3,0) (axis cs:0,10,20)--(axis cs:0,10.3,20) (axis cs:0,10,40)--(axis cs:0,10.3,40);
\end{axis}
\end{tikzpicture}
\end{document}
